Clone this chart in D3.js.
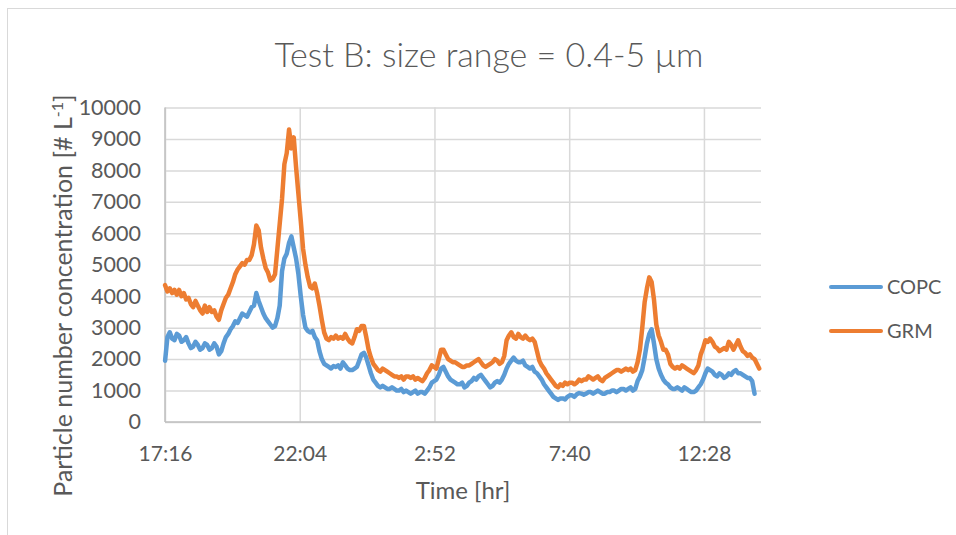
<!DOCTYPE html>
<html>
<head>
<meta charset="utf-8">
<script src="https://cdn.jsdelivr.net/npm/d3@7"></script>
<style>
  html, body { margin: 0; padding: 0; background: #fff; }
  svg { display: block; }
  text { font-family: Lato, "Open Sans", sans-serif; fill: #595959; }
</style>
</head>
<body>
<svg id="chart" width="956" height="535"></svg>
<script>
// Particle counts logged every 5 minutes from 17:17 onward
const firstSample = "17:17";
const sampleStepMinutes = 5;

const seriesNames = ["COPC", "GRM"];
const seriesColors = ["#5b9bd5", "#ed7d31"];

const copcValues = [
  1950, 2700, 2850, 2650, 2600, 2800, 2750, 2550, 2600, 2700,
  2500, 2350, 2400, 2550, 2450, 2300, 2350, 2500, 2450, 2300,
  2350, 2500, 2400, 2150, 2250, 2500, 2700, 2800, 2950, 3050,
  3200, 3150, 3300, 3450, 3400, 3350, 3500, 3650, 3700, 4100,
  3850, 3650, 3450, 3300, 3200, 3100, 3000, 3050, 3300, 3700,
  4800, 5200, 5350, 5700, 5900, 5550, 5200, 4700, 4000, 3400,
  3000, 2900, 2850, 2900, 2700, 2600, 2250, 2000, 1850, 1800,
  1750, 1700, 1780, 1750, 1800, 1700, 1900, 1800, 1700, 1650,
  1650, 1700, 1750, 1950, 2150, 2200, 2050, 1800, 1550, 1350,
  1250, 1150, 1100, 1150, 1100, 1050, 1050, 1100, 1050, 1000,
  1000, 1050, 950, 1000, 950, 900, 950, 1000, 900, 950,
  950, 900, 1000, 1100, 1250, 1300, 1350, 1500, 1700, 1750,
  1600, 1450, 1350, 1300, 1250, 1200, 1200, 1250, 1100, 1150,
  1250, 1300, 1400, 1350, 1450, 1500, 1400, 1300, 1200, 1100,
  1150, 1250, 1300, 1250, 1350, 1500, 1700, 1850, 1950, 2050,
  1950, 1900, 1900, 1950, 1800, 1750, 1700, 1750, 1600, 1550,
  1450, 1350, 1200, 1100, 1000, 900, 800, 750, 700, 750,
  750, 720, 800, 850, 850, 800, 880, 920, 900, 870,
  900, 950, 950, 900, 950, 1000, 950, 900, 900, 950,
  950, 1000, 1000, 950, 1000, 1050, 1050, 1000, 1050, 1100,
  1000, 1050, 1300, 1450, 1650, 2050, 2500, 2800, 2950, 2500,
  2000, 1700, 1500, 1350, 1250, 1200, 1100, 1050, 1050, 1100,
  1050, 1000, 1100, 1050, 1000, 950, 950, 1000, 1100, 1200,
  1350, 1550, 1700, 1650, 1600, 1500, 1450, 1550, 1500, 1400,
  1450, 1550, 1500, 1600, 1650, 1550, 1550, 1500, 1450, 1400,
  1400, 1300, 900
];

const grmValues = [
  4350, 4150, 4250, 4100, 4200, 4050, 4200, 4000, 4100, 3900,
  3950, 3750, 3650, 3850, 3700, 3550, 3450, 3700, 3500, 3650,
  3500, 3550, 3350, 3250, 3550, 3750, 3950, 4050, 4250, 4450,
  4700, 4850, 4950, 5050, 5000, 5150, 5150, 5300, 5650, 6250,
  6100, 5550, 5200, 4900, 4750, 4500, 4550, 4700, 5500, 6300,
  7100, 8200, 8550, 9300, 8700, 9050, 8100, 7250, 6400, 5500,
  5000, 4600, 4300, 4250, 4400, 4100, 3700, 3250, 2850, 2650,
  2600, 2700, 2650, 2750, 2650, 2700, 2650, 2800, 2650, 2550,
  2500, 2700, 2950, 2900, 3050, 3050, 2700, 2300, 2050, 1850,
  1750, 1650, 1600, 1700, 1650, 1600, 1550, 1500, 1450, 1450,
  1400, 1450, 1350, 1450, 1450, 1400, 1450, 1350, 1400, 1350,
  1300, 1400, 1550, 1650, 1800, 1750, 1700, 2000, 2300, 2300,
  2150, 2000, 1950, 1900, 1900, 1850, 1800, 1750, 1750, 1800,
  1800, 1850, 1900, 1950, 2000, 1900, 1800, 1750, 1800, 1850,
  1900, 2000, 1950, 1850, 1900, 2100, 2600, 2750, 2850, 2700,
  2650, 2800, 2700, 2650, 2750, 2650, 2600, 2650, 2550, 2250,
  1950, 1800, 1700, 1550, 1450, 1350, 1250, 1150, 1100, 1200,
  1150, 1250, 1200, 1250, 1250, 1200, 1250, 1350, 1300, 1350,
  1350, 1450, 1400, 1350, 1400, 1450, 1350, 1300, 1400, 1450,
  1500, 1550, 1600, 1650, 1650, 1600, 1650, 1700, 1650, 1700,
  1600, 1650, 1900, 2300, 3000, 3800, 4250, 4600, 4450, 3900,
  3100, 2750, 2550, 2300, 2300, 2150, 1850, 1750, 1700, 1750,
  1700, 1800, 1750, 1700, 1650, 1600, 1550, 1650, 1800, 2150,
  2350, 2600, 2550, 2650, 2550, 2400, 2350, 2250, 2300, 2350,
  2300, 2550, 2450, 2300, 2450, 2600, 2400, 2250, 2200, 2100,
  2150, 2050, 2000, 1850, 1700
];

const yTicks = [0, 1000, 2000, 3000, 4000, 5000, 6000, 7000, 8000, 9000, 10000];
const xTickLabels = ["17:16", "22:04", "2:52", "7:40", "12:28"];
const xAxisStart = "17:16:48";
const xAxisSpanMinutes = 1274;
const xTickStepMinutes = 288;

const titleText = "Test B: size range = 0.4-5 µm";
const xTitle = "Time [hr]";

// ---- layout ----
const svg = d3.select("#chart");
const plot = { left: 165, right: 761, top: 107.5, bottom: 422 };

const parseClock = s => {
  const p = s.split(":").map(Number);
  return new Date(2000, 0, 1, p[0], p[1], p[2] || 0);
};
const axisStart = parseClock(xAxisStart);
const axisEnd = d3.timeMinute.offset(axisStart, xAxisSpanMinutes);
const sampleStart = parseClock(firstSample);

const x = d3.scaleTime().domain([axisStart, axisEnd]).range([plot.left, plot.right]);
const y = d3.scaleLinear().domain([0, 10000]).range([plot.bottom, plot.top]);

// chart area border
svg.append("rect")
  .attr("x", 7.5).attr("y", 8.5)
  .attr("width", 960).attr("height", 540)
  .attr("fill", "none").attr("stroke", "#d9d9d9").attr("stroke-width", 1);

// title
svg.append("text")
  .attr("x", 489).attr("y", 67)
  .attr("text-anchor", "middle")
  .style("font-size", "34px")
  .style("font-weight", 300)
  .text(titleText);

// horizontal gridlines + value labels
const yAxis = d3.axisLeft(y).tickValues(yTicks).tickSize(-(plot.right - plot.left)).tickPadding(24).tickFormat(d3.format("d"));
const gy = svg.append("g").attr("transform", `translate(${plot.left},0)`).call(yAxis);
gy.select(".domain").remove();
gy.selectAll(".tick line").attr("stroke", "#d9d9d9").attr("stroke-width", 1.5);
gy.selectAll(".tick text").style("font-size", "21.5px").attr("fill", "#595959");

// vertical gridlines + time labels
const xTickDates = xTickLabels.map((_, i) => d3.timeMinute.offset(axisStart, i * xTickStepMinutes));
const xAxis = d3.axisBottom(x).tickValues(xTickDates).tickSize(-(plot.bottom - plot.top)).tickPadding(24)
  .tickFormat((d, i) => xTickLabels[i]);
const gx = svg.append("g").attr("transform", `translate(0,${plot.bottom})`).call(xAxis);
gx.select(".domain").remove();
gx.selectAll(".tick line").attr("stroke", "#d9d9d9").attr("stroke-width", 1.5);
gx.selectAll(".tick text").style("font-size", "21px").attr("fill", "#595959");

// axis lines
svg.append("line").attr("x1", plot.left).attr("x2", plot.left).attr("y1", plot.top).attr("y2", plot.bottom)
  .attr("stroke", "#bfbfbf").attr("stroke-width", 1.5);
svg.append("line").attr("x1", plot.left).attr("x2", plot.right).attr("y1", plot.bottom).attr("y2", plot.bottom)
  .attr("stroke", "#bfbfbf").attr("stroke-width", 1.5);

// series
const toPoints = vals => vals.map((v, i) => ({ t: d3.timeMinute.offset(sampleStart, i * sampleStepMinutes), v }));
const line = d3.line().x(d => x(d.t)).y(d => y(d.v));
[copcValues, grmValues].forEach((vals, k) => {
  svg.append("path")
    .datum(toPoints(vals))
    .attr("fill", "none")
    .attr("stroke", seriesColors[k])
    .attr("stroke-width", 4.5)
    .attr("stroke-linejoin", "round")
    .attr("stroke-linecap", "round")
    .attr("d", line);
});

// axis titles
svg.append("text")
  .attr("transform", "translate(72,295.5) rotate(-90)")
  .attr("text-anchor", "middle")
  .style("font-size", "25px")
  .call(t => {
    t.append("tspan").text("Particle number concentration [# L");
    t.append("tspan").attr("dy", -9).style("font-size", "16px").text("-1");
    t.append("tspan").attr("dy", 9).text("]");
  });

svg.append("text")
  .attr("x", (plot.left + plot.right) / 2).attr("y", 499)
  .attr("text-anchor", "middle")
  .style("font-size", "24px")
  .text(xTitle);

// legend
const legend = svg.append("g");
seriesNames.forEach((name, k) => {
  const ly = 287 + k * 44;
  legend.append("line")
    .attr("x1", 831).attr("x2", 881).attr("y1", ly).attr("y2", ly)
    .attr("stroke", seriesColors[k]).attr("stroke-width", 4).attr("stroke-linecap", "round");
  legend.append("text")
    .attr("x", 887).attr("y", ly).attr("dy", "0.36em")
    .style("font-size", "20px")
    .text(name);
});
</script>
</body>
</html>
